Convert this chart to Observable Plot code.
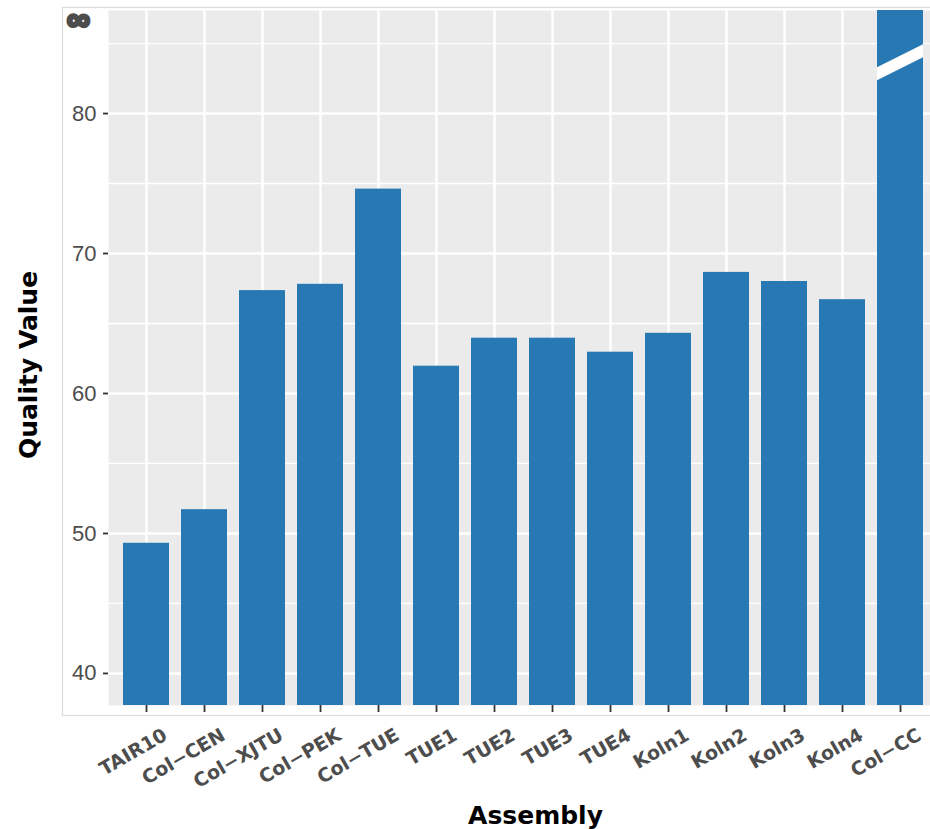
<!DOCTYPE html>
<html>
<head>
<meta charset="utf-8">
<script src="https://cdn.jsdelivr.net/npm/d3@7"></script>
<script src="https://cdn.jsdelivr.net/npm/@observablehq/plot@0.6"></script>
<style>
  html, body { margin: 0; padding: 0; background: #fff; }
  #chart { width: 930px; height: 829px; }
</style>
</head>
<body>
<div id="chart"></div>
<script>
// ---- data ----
const assemblies = ["TAIR10", "Col\u2212CEN", "Col\u2212XJTU", "Col\u2212PEK", "Col\u2212TUE", "TUE1", "TUE2", "TUE3", "TUE4", "Koln1", "Koln2", "Koln3", "Koln4", "Col\u2212CC"];
const qualityValues = [49.3, 51.7, 67.35, 67.8, 74.6, 61.95, 63.95, 63.95, 62.95, 64.3, 68.65, 68.0, 66.7, Infinity];
const yTicks = [40, 50, 60, 70, 80];
const yMinorTicks = [45, 55, 65, 75, 85];
const yDomain = [37.71, 87.36];
const infinityLabel = "\u221E";
const breakValues = [82.8, 84.45]; // axis break drawn across the infinite bar
const xTitle = "Assembly";
const yTitle = "Quality Value";

const rows = assemblies.map((a, i) => ({
  assembly: a,
  qv: Number.isFinite(qualityValues[i]) ? qualityValues[i] : yDomain[1]
}));
const infiniteName = assemblies[qualityValues.findIndex(v => !Number.isFinite(v))];

const breakMark = (...args) => {
  const scales = args.find(a => a && typeof a === "object" && typeof a.x === "function" && typeof a.y === "function");
  if (!scales) return null;
  const x0 = scales.x(infiniteName);
  const bw = (typeof scales.x.bandwidth === "function" ? scales.x.bandwidth() : scales.x.bandwidth) || 46.6;
  const ya = scales.y(breakValues[0]);
  const yb = scales.y(breakValues[1]);
  const h = 6.5;
  const g = d3.create("svg:g");
  g.append("path")
    .attr("d", `M${x0},${ya - h}L${x0 + bw},${yb - h}L${x0 + bw},${yb + h}L${x0},${ya + h}Z`)
    .attr("fill", "white");
  return g.node();
};

const chart = Plot.plot({
  width: 930,
  height: 829,
  marginLeft: 108,
  marginRight: 0,
  marginTop: 10,
  marginBottom: 124,
  style: { fontFamily: "Liberation Sans, Arial, sans-serif", background: "white", overflow: "visible" },
  x: { domain: assemblies, range: [109, 937], paddingInner: 0.2, paddingOuter: 0.2, label: null },
  y: { domain: yDomain, clamp: true, label: null },
  marks: [
    Plot.frame({ stroke: "#dcdcdc", strokeWidth: 1.2, insetLeft: -46, insetTop: -3, insetBottom: -10, insetRight: -20 }),
    Plot.frame({ fill: "#ebebeb" }),
    Plot.gridY(yMinorTicks, { stroke: "white", strokeOpacity: 1, strokeWidth: 1.3 }),
    Plot.gridY(yTicks, { stroke: "white", strokeOpacity: 1, strokeWidth: 2.4 }),
    Plot.gridX({ stroke: "white", strokeOpacity: 1, strokeWidth: 2.4 }),
    Plot.barY(rows, { x: "assembly", y1: yDomain[0], y2: "qv", fill: "#2878b4" }),
    breakMark,
    Plot.axisY(yTicks, {
      tickSize: 5, tickPadding: 7, fontSize: 22, fill: "#4d4d4d", stroke: "#333", strokeWidth: 1.8,
      fontFamily: "Liberation Sans, Arial, sans-serif", label: null
    }),
    Plot.axisX({
      tickSize: 7, tickFormat: () => "", stroke: "#333", strokeWidth: 1.8, label: null
    }),
    Plot.text(assemblies, {
      x: d => d, frameAnchor: "bottom", textAnchor: "end", lineAnchor: "middle", rotate: -30,
      dx: 19, dy: 28, fontSize: 19, fontWeight: "bold",
      fontFamily: "DejaVu Sans, Verdana, sans-serif", fill: "#4d4d4d"
    }),
    Plot.text([infinityLabel], {
      frameAnchor: "top-left", textAnchor: "middle", lineAnchor: "middle", dx: -30, dy: 9.5,
      fontSize: 32, fontWeight: "bold", fontFamily: "Liberation Sans, Arial, sans-serif",
      fill: "#4d4d4d", stroke: "#4d4d4d", strokeWidth: 3.2
    }),
    Plot.text([yTitle], {
      frameAnchor: "left", textAnchor: "middle", lineAnchor: "middle", dx: -80, dy: 7, rotate: -90,
      fontSize: 25, fontWeight: "bold", fontFamily: "DejaVu Sans, Verdana, sans-serif", fill: "black"
    }),
    Plot.text([xTitle], {
      frameAnchor: "bottom", textAnchor: "middle", lineAnchor: "middle", dx: 16, dy: 110,
      fontSize: 25, fontWeight: "bold", fontFamily: "DejaVu Sans, Verdana, sans-serif", fill: "black"
    })
  ]
});
document.getElementById("chart").append(chart);
</script>
</body>
</html>
